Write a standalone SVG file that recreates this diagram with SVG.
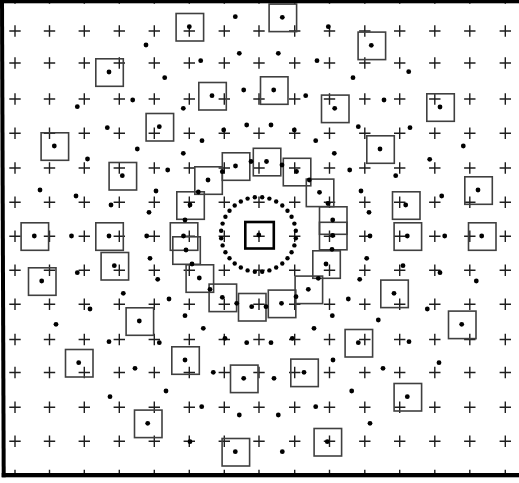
<svg xmlns="http://www.w3.org/2000/svg" xmlns:xlink="http://www.w3.org/1999/xlink" width="519" height="483" viewBox="0 0 519 483">
<style>
.plus{fill:none;stroke:#1e1e1e;stroke-width:1.4}
.sqr{fill:none;stroke:#404040;stroke-width:1.6}
.ctr{fill:none;stroke:#000;stroke-width:2.6}
.dt{fill:#000}
.frame{fill:#000}
</style>
<defs>
<path id="row" class="plus" d="M9.3 0h11.4M15 -5.7v11.4M43.8 0h11.4M49.5 -5.7v11.4M78.6 0h11.4M84.3 -5.7v11.4M113.6 0h11.4M119.3 -5.7v11.4M148.6 0h11.4M154.3 -5.7v11.4M183.6 0h11.4M189.3 -5.7v11.4M218.6 0h11.4M224.3 -5.7v11.4M253.3 0h11.4M259 -5.7v11.4M289 0h11.4M294.7 -5.7v11.4M323.8 0h11.4M329.5 -5.7v11.4M359.1 0h11.4M364.8 -5.7v11.4M394 0h11.4M399.7 -5.7v11.4M429.1 0h11.4M434.8 -5.7v11.4M464.1 0h11.4M469.8 -5.7v11.4M499.6 0h11.4M505.3 -5.7v11.4"/>
<circle id="dot" class="dt" cx="0" cy="0" r="2.4"/>
<circle id="rdot" class="dt" cx="0" cy="0" r="2.2"/>
<rect id="sq" class="sqr" x="-13.2" y="-13.2" width="27.5" height="27.5"/>
<clipPath id="clip"><rect x="0" y="0" width="519" height="476"/></clipPath>
</defs>
<rect width="519" height="483" fill="#fff"/>
<g id="grid" clip-path="url(#clip)">
<use href="#row" y="-2"/><use href="#row" y="31"/><use href="#row" y="63"/><use href="#row" y="99"/><use href="#row" y="133.3"/><use href="#row" y="168"/><use href="#row" y="202.3"/><use href="#row" y="236.3"/><use href="#row" y="270.3"/><use href="#row" y="304.3"/><use href="#row" y="339.5"/><use href="#row" y="372.5"/><use href="#row" y="407.3"/><use href="#row" y="441.3"/><use href="#row" y="475.5"/>
</g>
<g id="squares">
<use id="s1" href="#sq" x="189.3" y="26.7"/>
<use id="s2" href="#sq" x="109" y="72"/>
<use id="s3" href="#sq" x="212" y="95.7"/>
<use id="s4" href="#sq" x="159.3" y="126.7"/>
<use id="s5" href="#sq" x="54.3" y="146"/>
<use id="s6" href="#sq" x="235.5" y="166"/>
<use id="s7" href="#sq" x="266.5" y="161.5"/>
<use id="s8" href="#sq" x="296.5" y="171.5"/>
<use id="s9" href="#sq" x="282.3" y="17.3"/>
<use id="s10" href="#sq" x="371.3" y="45.3"/>
<use id="s11" href="#sq" x="273.7" y="90"/>
<use id="s12" href="#sq" x="334.7" y="108.3"/>
<use id="s13" href="#sq" x="440" y="107"/>
<use id="s14" href="#sq" x="380" y="149"/>
<use id="s15" href="#sq" x="122.3" y="175.7"/>
<use id="s16" href="#sq" x="208" y="180"/>
<use id="s17" href="#sq" x="190" y="205"/>
<use id="s18" href="#sq" x="34.3" y="236"/>
<use id="s19" href="#sq" x="109" y="236"/>
<use id="s20" href="#sq" x="183.5" y="236"/>
<use id="s21" href="#sq" x="186" y="250"/>
<use id="s22" href="#sq" x="114.3" y="265.7"/>
<use id="s23" href="#sq" x="41.7" y="281"/>
<use id="s24" href="#sq" x="199.3" y="278"/>
<use id="s25" href="#sq" x="222.3" y="297.3"/>
<use id="s26" href="#sq" x="251.7" y="306.7"/>
<use id="s27" href="#sq" x="139.3" y="321"/>
<use id="s28" href="#sq" x="319.5" y="192.3"/>
<use id="s29" href="#sq" x="332.7" y="220"/>
<use id="s30" href="#sq" x="332.7" y="235.5"/>
<use id="s31" href="#sq" x="326" y="264"/>
<use id="s32" href="#sq" x="308.3" y="289.3"/>
<use id="s33" href="#sq" x="281.5" y="303.3"/>
<use id="s34" href="#sq" x="405.7" y="205"/>
<use id="s35" href="#sq" x="407.3" y="236"/>
<use id="s36" href="#sq" x="478" y="190"/>
<use id="s37" href="#sq" x="481.7" y="236"/>
<use id="s38" href="#sq" x="394" y="293.3"/>
<use id="s39" href="#sq" x="461.7" y="324.3"/>
<use id="s40" href="#sq" x="78.7" y="362.7"/>
<use id="s41" href="#sq" x="185" y="360"/>
<use id="s42" href="#sq" x="243.7" y="378.3"/>
<use id="s43" href="#sq" x="147.7" y="423.3"/>
<use id="s44" href="#sq" x="235.3" y="451.7"/>
<use id="s45" href="#sq" x="358.3" y="342.7"/>
<use id="s46" href="#sq" x="304" y="372.3"/>
<use id="s47" href="#sq" x="407.3" y="396.7"/>
<use id="s48" href="#sq" x="327.3" y="441.7"/>
<rect id="center-square" class="ctr" x="245.3" y="222" width="28.5" height="26.5"/>
</g>
<g id="ring">
<use href="#rdot" x="295.82" y="238.18"/><use href="#rdot" x="294.39" y="245.39"/><use href="#rdot" x="291.57" y="252.18"/><use href="#rdot" x="287.49" y="258.29"/><use href="#rdot" x="282.29" y="263.49"/><use href="#rdot" x="276.18" y="267.57"/><use href="#rdot" x="269.39" y="270.39"/><use href="#rdot" x="262.18" y="271.82"/>
<use href="#rdot" x="221.18" y="238.18"/><use href="#rdot" x="222.61" y="245.39"/><use href="#rdot" x="225.43" y="252.18"/><use href="#rdot" x="229.51" y="258.29"/><use href="#rdot" x="234.71" y="263.49"/><use href="#rdot" x="240.82" y="267.57"/><use href="#rdot" x="247.61" y="270.39"/><use href="#rdot" x="254.82" y="271.82"/>
<use href="#rdot" x="221.18" y="230.82"/><use href="#rdot" x="222.61" y="223.61"/><use href="#rdot" x="225.43" y="216.82"/><use href="#rdot" x="229.51" y="210.71"/><use href="#rdot" x="234.71" y="205.51"/><use href="#rdot" x="240.82" y="201.43"/><use href="#rdot" x="247.61" y="198.61"/><use href="#rdot" x="254.82" y="197.18"/>
<use href="#rdot" x="295.82" y="230.82"/><use href="#rdot" x="294.39" y="223.61"/><use href="#rdot" x="291.57" y="216.82"/><use href="#rdot" x="287.49" y="210.71"/><use href="#rdot" x="282.29" y="205.51"/><use href="#rdot" x="276.18" y="201.43"/><use href="#rdot" x="269.39" y="198.61"/><use href="#rdot" x="262.18" y="197.18"/>
</g>
<g id="dots">
<use href="#dot" x="258.8" y="235"/>
<use href="#dot" x="235.3" y="16.7"/><use href="#dot" x="189.3" y="26.7"/><use href="#dot" x="146" y="45"/><use href="#dot" x="239.3" y="53.3"/><use href="#dot" x="200.7" y="60.7"/><use href="#dot" x="109" y="72"/><use href="#dot" x="164.7" y="77.7"/><use href="#dot" x="243.7" y="90"/><use href="#dot" x="212" y="95.7"/><use href="#dot" x="132.7" y="100"/><use href="#dot" x="77.3" y="106.7"/><use href="#dot" x="183.3" y="108.3"/><use href="#dot" x="246.7" y="125"/><use href="#dot" x="159.3" y="126.7"/><use href="#dot" x="107.3" y="127.7"/><use href="#dot" x="223.7" y="130"/><use href="#dot" x="202" y="140.7"/><use href="#dot" x="54.3" y="146"/><use href="#dot" x="137.3" y="149"/><use href="#dot" x="183.3" y="153.3"/><use href="#dot" x="87.5" y="159"/><use href="#dot" x="251" y="161.5"/><use href="#dot" x="235.5" y="166"/><use href="#dot" x="167.7" y="170"/><use href="#dot" x="222.3" y="171.7"/><use href="#dot" x="122.3" y="175.7"/><use href="#dot" x="208" y="180"/><use href="#dot" x="40" y="190"/><use href="#dot" x="156" y="191"/><use href="#dot" x="198.3" y="192"/><use href="#dot" x="76" y="196"/><use href="#dot" x="111" y="205"/><use href="#dot" x="190" y="205"/><use href="#dot" x="149" y="212.3"/><use href="#dot" x="185" y="220"/><use href="#dot" x="34.3" y="236"/><use href="#dot" x="71.5" y="236"/><use href="#dot" x="109" y="236"/><use href="#dot" x="146.7" y="236"/><use href="#dot" x="183.5" y="236"/><use href="#dot" x="186" y="250"/><use href="#dot" x="150" y="258.3"/><use href="#dot" x="192" y="264"/><use href="#dot" x="114.3" y="265.7"/><use href="#dot" x="77.3" y="272.7"/><use href="#dot" x="199.3" y="278"/><use href="#dot" x="157.7" y="279.3"/><use href="#dot" x="41.7" y="281"/><use href="#dot" x="210" y="289.3"/><use href="#dot" x="123.3" y="293.3"/><use href="#dot" x="222.3" y="297.3"/><use href="#dot" x="169" y="299"/><use href="#dot" x="236.7" y="303.3"/><use href="#dot" x="251.7" y="306.7"/><use href="#dot" x="90" y="309"/><use href="#dot" x="185" y="315.7"/><use href="#dot" x="139.3" y="321"/><use href="#dot" x="56" y="324.3"/><use href="#dot" x="203.3" y="328.3"/><use href="#dot" x="225" y="338.3"/><use href="#dot" x="109" y="341.7"/><use href="#dot" x="159.3" y="342.7"/><use href="#dot" x="246.7" y="342.7"/><use href="#dot" x="185" y="360"/><use href="#dot" x="78.7" y="362.7"/><use href="#dot" x="135" y="368.3"/><use href="#dot" x="213.3" y="372.3"/><use href="#dot" x="243.7" y="378.3"/><use href="#dot" x="166" y="391"/><use href="#dot" x="110" y="396.7"/><use href="#dot" x="201.7" y="406.7"/><use href="#dot" x="239.3" y="415"/><use href="#dot" x="147.7" y="423.3"/><use href="#dot" x="190" y="441.7"/><use href="#dot" x="235.3" y="451.7"/>
<use href="#dot" x="282.3" y="17.3"/><use href="#dot" x="328.3" y="26.7"/><use href="#dot" x="371.3" y="45.3"/><use href="#dot" x="278.3" y="53.3"/><use href="#dot" x="317" y="60.7"/><use href="#dot" x="408.7" y="71.7"/><use href="#dot" x="353" y="77.7"/><use href="#dot" x="273.7" y="90"/><use href="#dot" x="305.7" y="95.7"/><use href="#dot" x="384" y="100"/><use href="#dot" x="334.7" y="108.3"/><use href="#dot" x="440" y="107"/><use href="#dot" x="271" y="125"/><use href="#dot" x="294.3" y="130"/><use href="#dot" x="358.3" y="126.7"/><use href="#dot" x="410" y="127.7"/><use href="#dot" x="315.7" y="140.7"/><use href="#dot" x="380" y="149"/><use href="#dot" x="334.3" y="153.3"/><use href="#dot" x="463.3" y="146"/><use href="#dot" x="429.7" y="159.3"/><use href="#dot" x="266.5" y="161.5"/><use href="#dot" x="282" y="165"/><use href="#dot" x="349.7" y="170"/><use href="#dot" x="296.5" y="171.5"/><use href="#dot" x="395.7" y="175.7"/><use href="#dot" x="309.3" y="180"/><use href="#dot" x="478" y="190"/><use href="#dot" x="361" y="191"/><use href="#dot" x="319.5" y="192.3"/><use href="#dot" x="441.7" y="196"/><use href="#dot" x="405.7" y="205"/><use href="#dot" x="328" y="203.5"/><use href="#dot" x="369" y="212.3"/><use href="#dot" x="332.7" y="220"/><use href="#dot" x="370" y="236"/><use href="#dot" x="407.3" y="236"/><use href="#dot" x="444.7" y="236"/><use href="#dot" x="481.7" y="236"/><use href="#dot" x="332.7" y="235.5"/><use href="#dot" x="332" y="249.3"/><use href="#dot" x="366.7" y="258.3"/><use href="#dot" x="326" y="264"/><use href="#dot" x="403" y="265.7"/><use href="#dot" x="440" y="272.7"/><use href="#dot" x="359.7" y="279.3"/><use href="#dot" x="318.3" y="278.3"/><use href="#dot" x="476.3" y="281"/><use href="#dot" x="308.3" y="289.3"/><use href="#dot" x="394" y="293.3"/><use href="#dot" x="296" y="296.7"/><use href="#dot" x="348.3" y="299"/><use href="#dot" x="281.5" y="303.3"/><use href="#dot" x="266" y="306.7"/><use href="#dot" x="427.3" y="309"/><use href="#dot" x="332.3" y="315.7"/><use href="#dot" x="378.3" y="320"/><use href="#dot" x="314" y="328.3"/><use href="#dot" x="461.7" y="324.3"/><use href="#dot" x="292.3" y="338.3"/><use href="#dot" x="271" y="342.7"/><use href="#dot" x="358.3" y="342.7"/><use href="#dot" x="409" y="341.7"/><use href="#dot" x="333" y="360"/><use href="#dot" x="439" y="362.7"/><use href="#dot" x="304" y="372.3"/><use href="#dot" x="383" y="368.3"/><use href="#dot" x="274" y="378.3"/><use href="#dot" x="351.7" y="391"/><use href="#dot" x="407.3" y="396.7"/><use href="#dot" x="315.7" y="406.7"/><use href="#dot" x="278.3" y="415"/><use href="#dot" x="370" y="423.3"/><use href="#dot" x="327.3" y="441.7"/><use href="#dot" x="282.3" y="451.7"/>
</g>
<g id="frame">
<rect class="frame" x="0" y="0" width="519" height="3.3"/>
<polygon class="frame" points="0,0 4,0 5.7,477.3 1.7,477.3"/>
<rect class="frame" x="1.7" y="473" width="517.3" height="4.3"/>
</g>
</svg>
